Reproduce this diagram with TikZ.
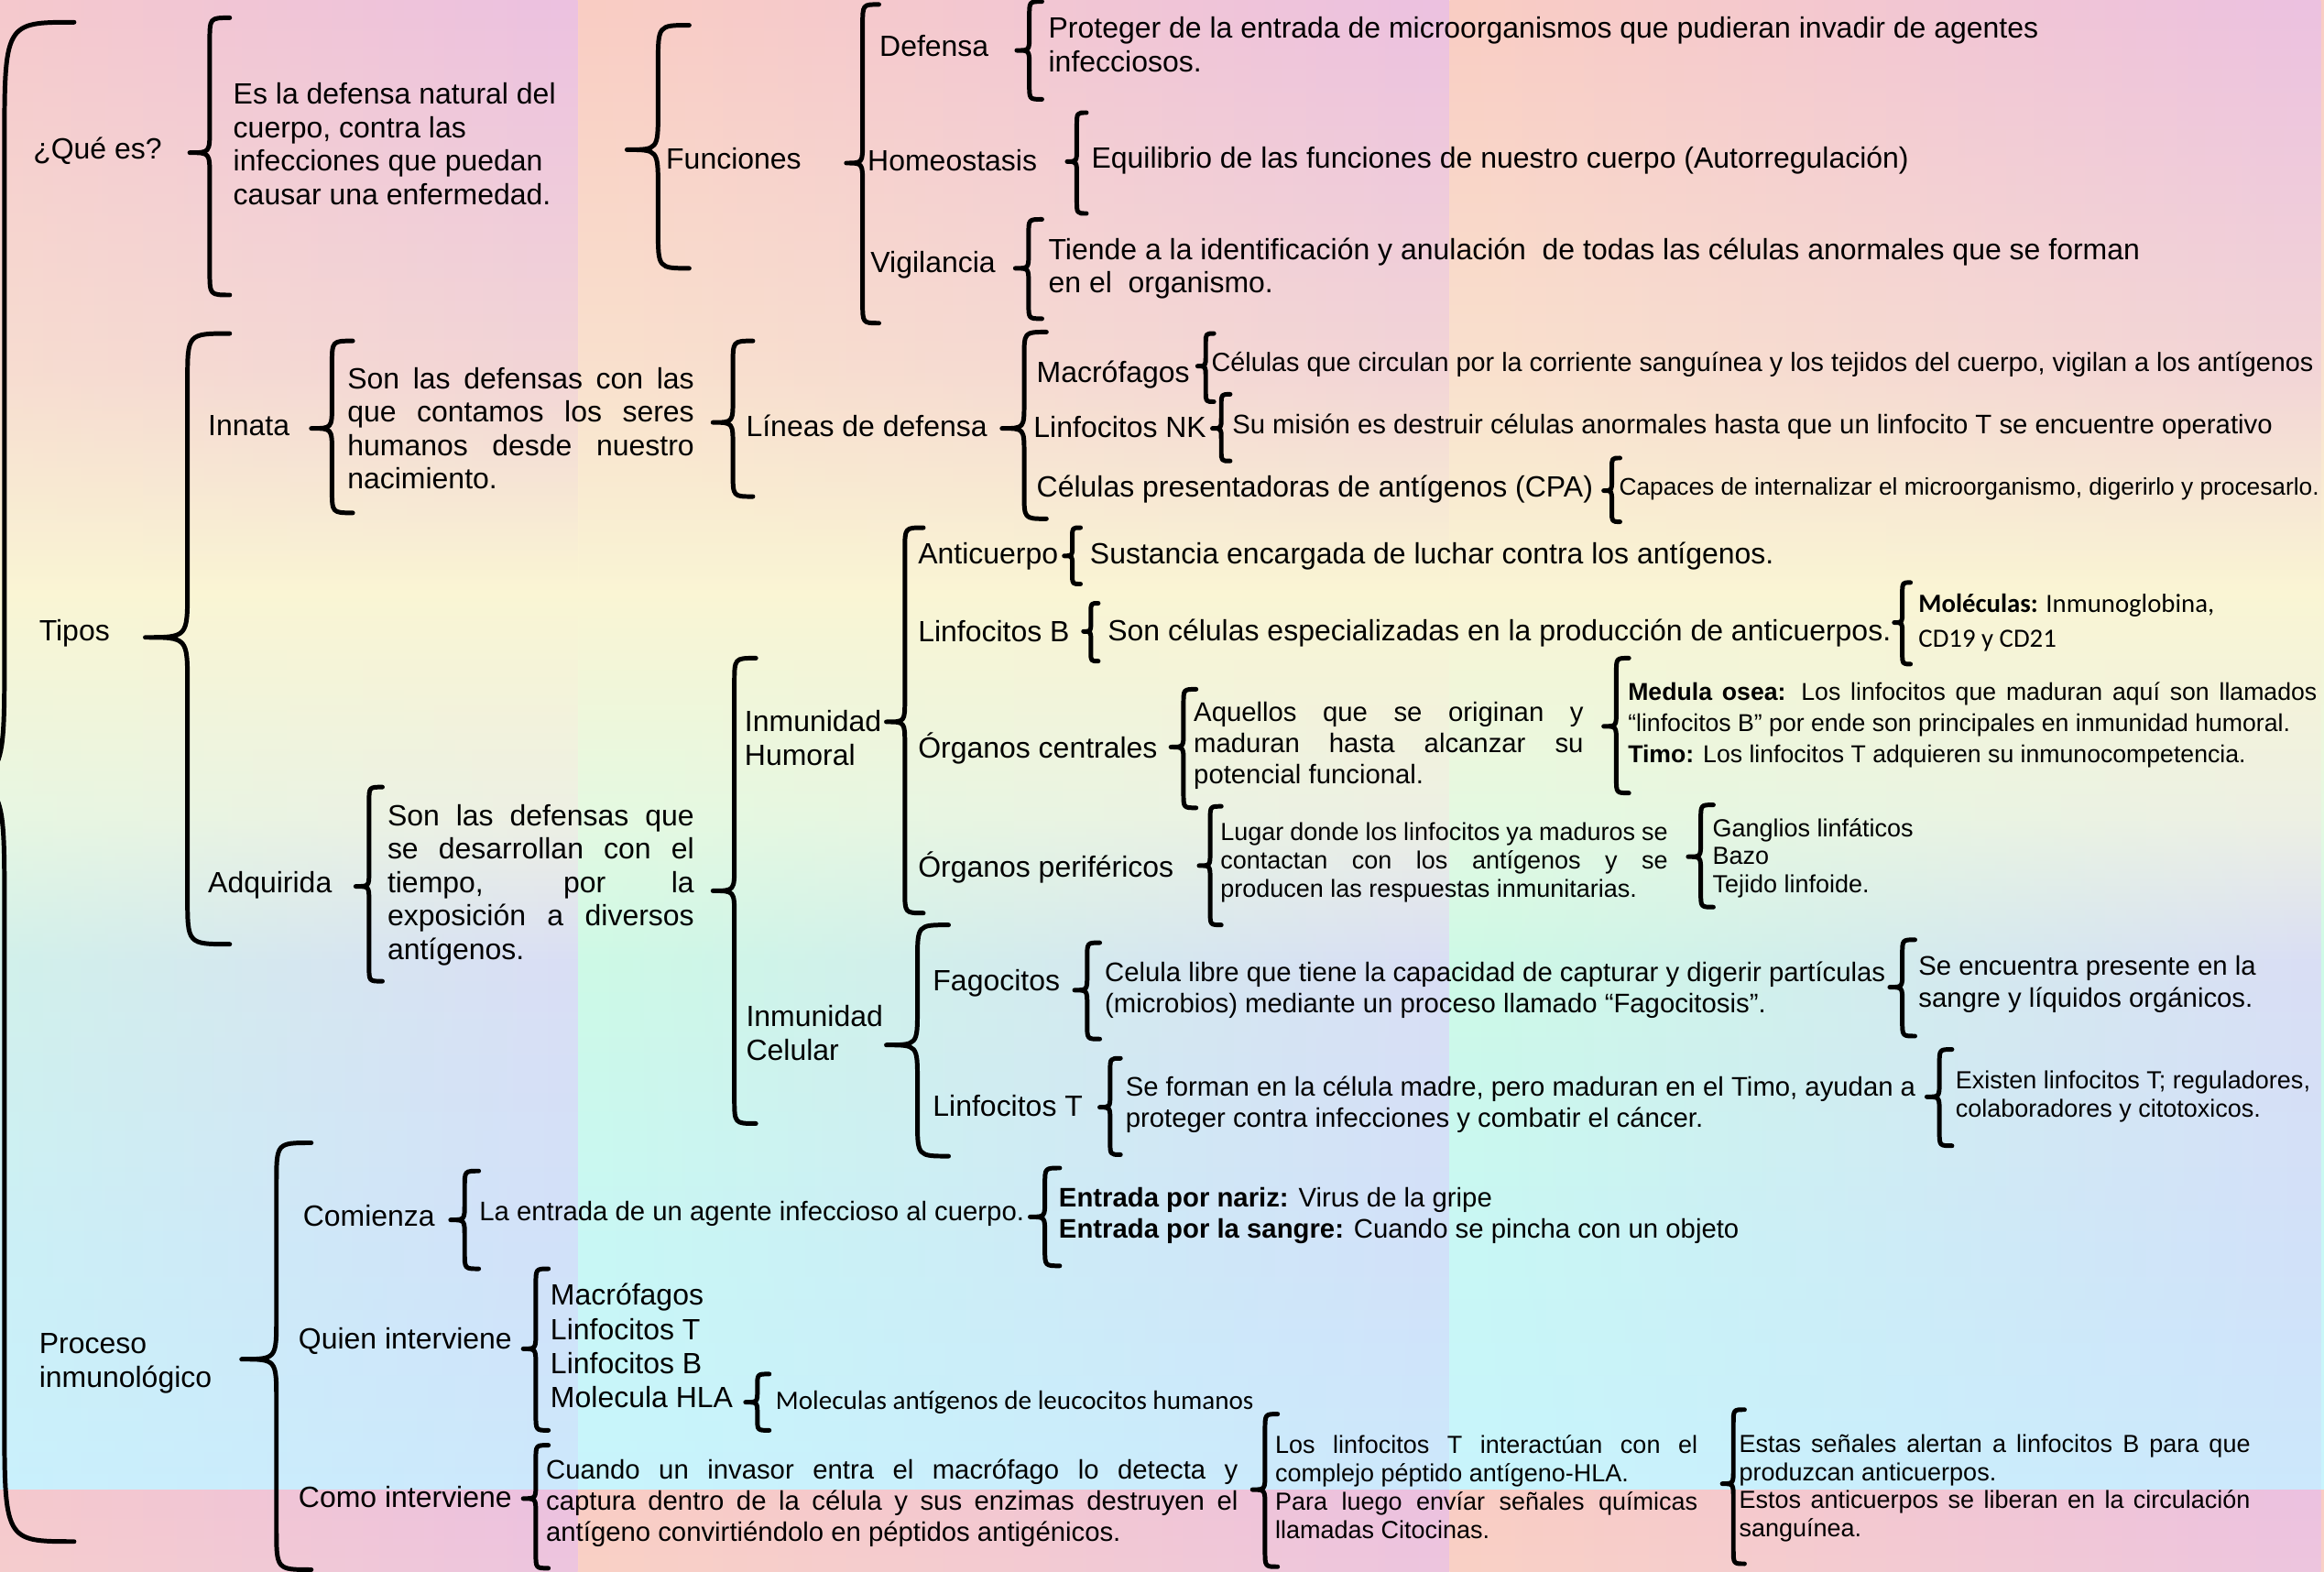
\documentclass[tikz,border=0pt]{standalone}
\usepackage{fontspec}
\setmainfont{Liberation Sans}
\newfontfamily\calibri{Carlito}
\usetikzlibrary{fadings}

\definecolor{izqA}{RGB}{250,205,195}
\definecolor{izqB}{RGB}{250,225,205}
\definecolor{izqC}{RGB}{250,245,212}
\definecolor{izqD}{RGB}{228,250,225}
\definecolor{izqE}{RGB}{205,250,230}
\definecolor{izqF}{RGB}{200,248,245}
\definecolor{izqG}{RGB}{200,245,252}
\definecolor{derA}{RGB}{236,193,225}
\definecolor{derB}{RGB}{242,212,215}
\definecolor{derC}{RGB}{250,245,212}
\definecolor{derD}{RGB}{238,240,228}
\definecolor{derE}{RGB}{218,222,245}
\definecolor{derF}{RGB}{210,225,250}
\definecolor{derG}{RGB}{205,232,252}

\pgfdeclareverticalshading{fondoizq}{100bp}{color(0bp)=(izqG); color(25bp)=(izqG); color(32.7bp)=(izqF); color(42.7bp)=(izqE); color(47.6bp)=(izqD); color(55.1bp)=(izqC); color(62.6bp)=(izqB); color(75bp)=(izqA); color(100bp)=(izqA)}
\pgfdeclareverticalshading{fondoder}{100bp}{color(0bp)=(derG); color(25bp)=(derG); color(32.7bp)=(derF); color(42.7bp)=(derE); color(47.6bp)=(derD); color(55.1bp)=(derC); color(62.6bp)=(derB); color(75bp)=(derA); color(100bp)=(derA)}
\tikzfading[name=haciader, left color=transparent!100, right color=transparent!0]

% llave: x de los extremos, y arriba, y punta, y abajo, ancho, curva
\newcommand{\llave}[6]{%
  \pgfmathsetmacro{\xm}{#1-#5/2}%
  \pgfmathsetmacro{\xp}{#1-#5}%
  \draw[trazo] (#1,#2) .. controls (\xm,#2) .. (\xm,#2+#6) -- (\xm,#3-#6)
    .. controls (\xm,#3) .. (\xp,#3) .. controls (\xm,#3) .. (\xm,#3+#6)
    -- (\xm,#4-#6) .. controls (\xm,#4) .. (#1,#4);
}

\begin{document}
\begin{tikzpicture}[x=0.016cm, y=-0.016cm,
    texto/.style={anchor=west, inner sep=0pt, align=left, font=\fontsize{9}{10.3}\selectfont},
    medio/.style={texto, font=\fontsize{8.25}{9.6}\selectfont},
    chico/.style={texto, font=\fontsize{8.25}{9.6}\selectfont},
    menor/.style={texto, font=\fontsize{7.6}{8.7}\selectfont},
    justo/.style={align=justify, text width=#1},
    trazo/.style={line width=1.4pt, line cap=round, line join=round}]

  \useasboundingbox (0,0) rectangle (1568,1060);
  \clip (0,0) rectangle (1568,1060);

  % fondo
  \foreach \xa in {-198,390,978,1566} {
    \foreach \ya in {0,1005} {
      \shade[shading=fondoizq] (\xa,\ya) rectangle ++(588,1005);
      \shade[shading=fondoder, path fading=haciader] (\xa,\ya) rectangle ++(588,1005);
    }
  }

  % que es
  \node[texto] (quees) at (22,102) {¿Qué es?};
  \node[texto] (defcuerpo) at (157,97) {Es la defensa natural del\\cuerpo, contra las\\infecciones que puedan\\causar una enfermedad.};
  \node[texto] (funciones) at (449,107) {Funciones};
  \node[texto] (defensa) at (593,31) {Defensa};
  \node[texto] (homeostasis) at (585,108) {Homeostasis};
  \node[texto] (vigilancia) at (587,179) {Vigilancia};
  \node[texto] (proteger) at (707,30) {Proteger de la entrada de microorganismos que pudieran invadir de agentes\\infecciosos.};
  \node[texto] (equilibrio) at (736,108) {Equilibrio de las funciones de nuestro cuerpo (Autorregulación)};
  \node[texto] (tiende) at (707,181) {Tiende a la identificación y anulación\ \ de todas las células anormales que se forman\\en el\ \ organismo.};

  % tipos
  \node[texto] (tipos) at (26,427) {Tipos};
  \node[texto] (innata) at (140,287) {Innata};
  \node[texto, justo=3.744cm] (innatadef) at (234,289) {Son las defensas con las\linebreak que contamos los seres\linebreak humanos desde nuestro\linebreak nacimiento.};
  \node[texto] (lineas) at (503,287) {Líneas de defensa};
  \node[texto] (macrofagos) at (699,253) {Macrófagos};
  \node[texto] (nk) at (697,288) {Linfocitos NK};
  \node[texto] (cpa) at (699,330) {Células presentadoras de antígenos (CPA)};
  \node[chico, font=\fontsize{8.1}{9.6}\selectfont] (macrodef) at (817,246) {Células que circulan por la corriente sanguínea y los tejidos del cuerpo, vigilan a los antígenos};
  \node[chico] (nkdef) at (831,288) {Su misión es destruir células anormales hasta que un linfocito T se encuentre operativo};
  \node[texto, font=\fontsize{7.4}{8.5}\selectfont] (cpadef) at (1092,330) {Capaces de internalizar el microorganismo, digerirlo y procesarlo.};

  \node[texto] (adquirida) at (140,597) {Adquirida};
  \node[texto, justo=3.312cm] (adqdef) at (261,597) {Son las defensas que\linebreak se desarrollan con el\linebreak tiempo, por la\linebreak exposición a diversos\linebreak antígenos.};
  \node[texto] (humoral) at (502,498) {Inmunidad\\Humoral};
  \node[texto] (celular) at (503,697) {Inmunidad\\Celular};
  \node[texto] (anticuerpo) at (619,375) {Anticuerpo};
  \node[texto] (linfob) at (619,426) {Linfocitos B};
  \node[texto] (centrales) at (619,505) {Órganos centrales};
  \node[texto] (perifericos) at (619,585) {Órganos periféricos};
  \node[texto] (sustancia) at (735,375) {Sustancia encargada de luchar contra los antígenos.};
  \node[texto] (especializadas) at (747,427) {Son células especializadas en la producción de anticuerpos.};
  \node[texto, font=\calibri\fontsize{8.1}{10.5}\selectfont] (moleculas) at (1294,420) {\textbf{Moléculas:} Inmunoglobina,\\CD19 y CD21};
  \node[chico, justo=4.208cm] (aquellos) at (805,503) {Aquellos que se originan y\linebreak maduran hasta alcanzar su\linebreak potencial funcional.};
  \node[menor, justo=7.44cm, font=\fontsize{7.5}{9.6}\selectfont] (medula) at (1098,489) {\textbf{Medula osea:} Los linfocitos que maduran aquí son llamados\linebreak “linfocitos B” por ende son principales en inmunidad humoral.\par\textbf{Timo:} Los linfocitos T adquieren su inmunocompetencia.};
  \node[menor, justo=4.832cm] (lugar) at (823,582) {Lugar donde los linfocitos ya maduros se\linebreak contactan con los antígenos y se\linebreak producen las respuestas inmunitarias.};
  \node[menor] (ganglios) at (1155,579) {Ganglios linfáticos\\Bazo\\Tejido linfoide.};
  \node[texto] (fagocitos) at (629,663) {Fagocitos};
  \node[texto] (linfot) at (629,746) {Linfocitos T};
  \node[medio] (celula) at (745,668) {Celula libre que tiene la capacidad de capturar y digerir partículas\\(microbios) mediante un proceso llamado “Fagocitosis”.};
  \node[medio] (presente) at (1294,664) {Se encuentra presente en la\\sangre y líquidos orgánicos.};
  \node[medio] (forman) at (759,745) {Se forman en la célula madre, pero maduran en el Timo, ayudan a\\proteger contra infecciones y combatir el cáncer.};
  \node[menor] (existen) at (1319,740) {Existen linfocitos T; reguladores,\\colaboradores y citotoxicos.};

  % proceso
  \node[texto] (proceso) at (26,920) {Proceso\\inmunológico};
  \node[texto] (comienza) at (204,820) {Comienza};
  \node[texto] (quien) at (201,905) {Quien interviene};
  \node[texto] (como) at (201,1010) {Como interviene};
  \node[chico] (entradaag) at (323,819) {La entrada de un agente infeccioso al cuerpo.};
  \node[medio] (vias) at (714,820) {\textbf{Entrada por nariz:} Virus de la gripe\\\textbf{Entrada por la sangre:} Cuando se pincha con un objeto};
  \node[texto, font=\fontsize{9}{10.5}\selectfont] (celulas) at (371,908) {Macrófagos\\Linfocitos T\\Linfocitos B\\Molecula HLA};
  \node[texto, font=\calibri\fontsize{8.2}{10}\selectfont] (hla) at (523,946) {Moleculas antígenos de leucocitos humanos};
  \node[medio, justo=7.472cm] (cuando) at (368,1014) {Cuando un invasor entra el macrófago lo detecta y\linebreak captura dentro de la célula y sus enzimas destruyen el\linebreak antígeno convirtiéndolo en péptidos antigénicos.};
  \node[menor, justo=4.56cm] (interactuan) at (860,1003) {Los linfocitos T interactúan con el\linebreak complejo péptido antígeno-HLA.\par Para luego envíar señales químicas\linebreak llamadas Citocinas.};
  \node[menor, justo=5.52cm] (senales) at (1173,1004) {Estas señales alertan a linfocitos B para que\linebreak produzcan anticuerpos.\par Estos anticuerpos se liberan en la circulación\linebreak sanguínea.};

  % llaves
  \llave{50}{15}{527}{1040}{94}{85}
  \llave{155}{12}{103}{199}{27}{16}
  \llave{465}{17}{101}{181}{42}{26}
  \llave{593}{3}{110}{218}{22}{14}
  \llave{703}{1}{34}{67}{17}{10}
  \llave{733}{76}{109}{144}{13}{9}
  \llave{703}{148}{181}{215}{18}{10}
  \llave{155}{225}{430}{637}{57}{32}
  \llave{238}{230}{289}{346}{28}{16}
  \llave{508}{230}{285}{335}{27}{16}
  \llave{706}{224}{289}{350}{30}{17}
  \llave{819}{225}{247}{271}{11}{7}
  \llave{830}{266}{289}{311}{12}{7}
  \llave{1093}{309}{331}{352}{11}{7}
  \llave{258}{531}{598}{662}{18}{10}
  \llave{510}{444}{601}{758}{29}{17}
  \llave{623}{356}{487}{616}{25}{15}
  \llave{729}{356}{375}{394}{11}{6}
  \llave{741}{407}{426}{446}{10}{6}
  \llave{1289}{393}{420}{448}{11}{7}
  \llave{807}{465}{504}{545}{17}{10}
  \llave{1099}{444}{490}{535}{17}{10}
  \llave{824}{544}{584}{624}{15}{9}
  \llave{1156}{543}{578}{612}{17}{10}
  \llave{640}{624}{705}{780}{42}{24}
  \llave{742}{636}{668}{701}{17}{10}
  \llave{1292}{634}{666}{699}{17}{10}
  \llave{756}{714}{747}{779}{14}{9}
  \llave{1317}{708}{740}{773}{17}{10}
  \llave{210}{771}{917}{1059}{47}{28}
  \llave{323}{790}{823}{856}{19}{11}
  \llave{715}{788}{821}{854}{20}{11}
  \llave{370}{856}{910}{965}{17}{11}
  \llave{519}{927}{946}{965}{16}{8}
  \llave{370}{975}{1011}{1058}{17}{10}
  \llave{862}{954}{1005}{1057}{17}{11}
  \llave{1177}{951}{1001}{1055}{15}{10}
\end{tikzpicture}
\end{document}
